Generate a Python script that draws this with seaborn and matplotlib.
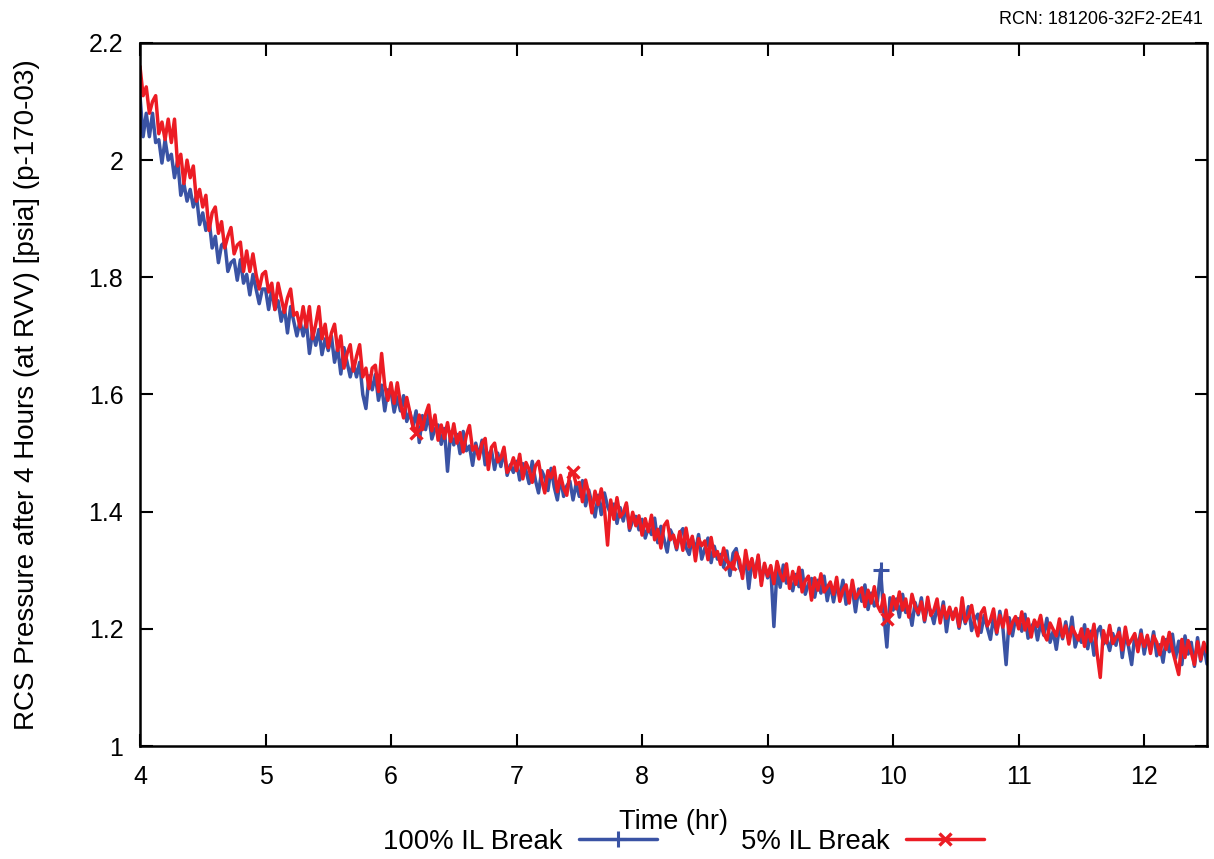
import numpy as np
import pandas as pd
import matplotlib
matplotlib.use("Agg")
import matplotlib.pyplot as plt
import seaborn as sns

# Time axis (hr), samples every 0.025 hr from 4.0 to 12.5
time_hr = [round(4.0 + 0.025 * i, 3) for i in range(341)]

# 100% IL Break (blue), one row per half hour
p_100 = [
    2.11, 2.04, 2.08, 2.04, 2.08, 2.03, 2.035, 1.995, 2.035, 2.0, 2.01, 1.97, 2.0, 1.94, 1.96, 1.93, 1.95, 1.92, 1.94, 1.89,
    1.91, 1.88, 1.90, 1.85, 1.87, 1.825, 1.855, 1.86, 1.81, 1.825, 1.83, 1.795, 1.83, 1.79, 1.805, 1.77, 1.805, 1.78, 1.755, 1.78,
    1.78, 1.745, 1.78, 1.745, 1.76, 1.725, 1.75, 1.705, 1.75, 1.725, 1.70, 1.725, 1.70, 1.725, 1.67, 1.707, 1.684, 1.711, 1.668, 1.695,
    1.675, 1.70, 1.655, 1.68, 1.635, 1.68, 1.655, 1.63, 1.655, 1.63, 1.655, 1.60, 1.576, 1.632, 1.608, 1.634, 1.59, 1.616, 1.572, 1.608,
    1.605, 1.57, 1.596, 1.572, 1.598, 1.554, 1.57, 1.546, 1.572, 1.518, 1.564, 1.54, 1.567, 1.524, 1.541, 1.548, 1.515, 1.542, 1.469, 1.536,
    1.514, 1.532, 1.499, 1.537, 1.504, 1.512, 1.479, 1.517, 1.494, 1.522, 1.48, 1.497, 1.505, 1.472, 1.50, 1.477, 1.505, 1.462, 1.48, 1.467,
    1.486, 1.454, 1.482, 1.47, 1.448, 1.486, 1.454, 1.432, 1.47, 1.458, 1.436, 1.474, 1.442, 1.42, 1.458, 1.426, 1.444, 1.452, 1.42, 1.448,
    1.426, 1.453, 1.41, 1.437, 1.414, 1.391, 1.428, 1.395, 1.432, 1.409, 1.396, 1.413, 1.38, 1.407, 1.384, 1.411, 1.368, 1.385, 1.392, 1.369,
    1.387, 1.355, 1.373, 1.361, 1.389, 1.347, 1.375, 1.353, 1.331, 1.369, 1.357, 1.335, 1.363, 1.371, 1.339, 1.327, 1.355, 1.333, 1.361, 1.319,
    1.337, 1.355, 1.313, 1.341, 1.319, 1.327, 1.305, 1.333, 1.291, 1.329, 1.337, 1.305, 1.293, 1.321, 1.269, 1.317, 1.295, 1.323, 1.281, 1.309,
    1.287, 1.305, 1.204, 1.302, 1.271, 1.309, 1.278, 1.286, 1.265, 1.293, 1.272, 1.30, 1.259, 1.277, 1.286, 1.254, 1.283, 1.261, 1.29, 1.248,
    1.277, 1.246, 1.275, 1.254, 1.283, 1.242, 1.261, 1.27, 1.229, 1.268, 1.247, 1.275, 1.233, 1.261, 1.239, 1.247, 1.301, 1.225, 1.169, 1.253,
    1.232, 1.251, 1.22, 1.259, 1.228, 1.237, 1.206, 1.245, 1.224, 1.253, 1.212, 1.241, 1.23, 1.209, 1.238, 1.217, 1.246, 1.195, 1.234, 1.223,
    1.232, 1.201, 1.23, 1.209, 1.238, 1.197, 1.216, 1.225, 1.194, 1.223, 1.202, 1.182, 1.221, 1.191, 1.23, 1.20, 1.139, 1.219, 1.188, 1.218,
    1.217, 1.196, 1.225, 1.184, 1.203, 1.212, 1.181, 1.21, 1.189, 1.218, 1.177, 1.196, 1.165, 1.204, 1.183, 1.212, 1.181, 1.22, 1.169, 1.188,
    1.177, 1.207, 1.166, 1.196, 1.155, 1.195, 1.204, 1.174, 1.183, 1.163, 1.192, 1.172, 1.201, 1.151, 1.19, 1.17, 1.139, 1.189, 1.168, 1.198,
    1.157, 1.186, 1.165, 1.195, 1.154, 1.173, 1.143, 1.182, 1.161, 1.191, 1.15, 1.179, 1.139, 1.188, 1.157, 1.177, 1.136, 1.185, 1.145, 1.174,
    1.14,
]

# 5% IL Break (red), one row per half hour
p_5 = [
    2.16, 2.11, 2.125, 2.08, 2.10, 2.11, 2.045, 2.065, 2.035, 2.07, 2.03, 2.07, 1.99, 2.01, 1.96, 2.00, 1.97, 1.99, 1.93, 1.95,
    1.92, 1.94, 1.88, 1.91, 1.92, 1.875, 1.895, 1.85, 1.87, 1.885, 1.84, 1.855, 1.86, 1.81, 1.845, 1.81, 1.84, 1.805, 1.78, 1.805,
    1.81, 1.775, 1.79, 1.745, 1.79, 1.765, 1.74, 1.765, 1.78, 1.735, 1.74, 1.715, 1.75, 1.715, 1.75, 1.695, 1.72, 1.75, 1.695, 1.72,
    1.68, 1.705, 1.72, 1.675, 1.70, 1.645, 1.67, 1.685, 1.64, 1.665, 1.685, 1.63, 1.645, 1.61, 1.645, 1.65, 1.605, 1.67, 1.615, 1.59,
    1.62, 1.585, 1.62, 1.585, 1.56, 1.595, 1.57, 1.545, 1.535, 1.565, 1.54, 1.566, 1.582, 1.538, 1.565, 1.522, 1.548, 1.525, 1.552, 1.52,
    1.55, 1.517, 1.535, 1.502, 1.53, 1.547, 1.505, 1.512, 1.49, 1.517, 1.525, 1.472, 1.51, 1.517, 1.485, 1.492, 1.51, 1.467, 1.475, 1.492,
    1.47, 1.498, 1.456, 1.484, 1.472, 1.45, 1.478, 1.486, 1.454, 1.432, 1.47, 1.458, 1.476, 1.434, 1.462, 1.44, 1.428, 1.466, 1.468, 1.447,
    1.45, 1.417, 1.454, 1.431, 1.398, 1.435, 1.412, 1.439, 1.406, 1.343, 1.42, 1.387, 1.424, 1.391, 1.398, 1.415, 1.372, 1.399, 1.376, 1.393,
    1.36, 1.388, 1.366, 1.394, 1.352, 1.37, 1.338, 1.376, 1.384, 1.352, 1.36, 1.338, 1.366, 1.334, 1.372, 1.34, 1.358, 1.316, 1.354, 1.342,
    1.35, 1.318, 1.356, 1.324, 1.332, 1.31, 1.338, 1.316, 1.31, 1.302, 1.33, 1.318, 1.286, 1.334, 1.302, 1.32, 1.288, 1.326, 1.274, 1.312,
    1.29, 1.308, 1.277, 1.315, 1.294, 1.282, 1.311, 1.269, 1.298, 1.276, 1.305, 1.263, 1.282, 1.29, 1.249, 1.287, 1.266, 1.294, 1.263, 1.271,
    1.28, 1.259, 1.288, 1.247, 1.266, 1.275, 1.244, 1.283, 1.252, 1.261, 1.27, 1.238, 1.266, 1.244, 1.272, 1.24, 1.229, 1.258, 1.217, 1.226,
    1.255, 1.234, 1.263, 1.232, 1.251, 1.22, 1.259, 1.238, 1.227, 1.246, 1.215, 1.254, 1.223, 1.232, 1.251, 1.21, 1.239, 1.218, 1.237, 1.216,
    1.235, 1.204, 1.253, 1.212, 1.221, 1.24, 1.209, 1.188, 1.227, 1.236, 1.205, 1.215, 1.234, 1.194, 1.223, 1.203, 1.232, 1.192, 1.211, 1.221,
    1.20, 1.229, 1.198, 1.217, 1.186, 1.215, 1.204, 1.223, 1.192, 1.181, 1.21, 1.199, 1.188, 1.217, 1.186, 1.205, 1.174, 1.203, 1.192, 1.181,
    1.20, 1.17, 1.199, 1.179, 1.208, 1.158, 1.117, 1.197, 1.176, 1.206, 1.175, 1.185, 1.194, 1.164, 1.203, 1.173, 1.182, 1.192, 1.161, 1.191,
    1.17, 1.189, 1.158, 1.188, 1.177, 1.156, 1.186, 1.165, 1.194, 1.164, 1.143, 1.122, 1.182, 1.151, 1.18, 1.16, 1.139, 1.178, 1.148, 1.177,
    1.16,
]

series_names = ["100% IL Break", "5% IL Break"]
x_ticks = [4, 5, 6, 7, 8, 9, 10, 11, 12]
y_ticks = [1.0, 1.2, 1.4, 1.6, 1.8, 2.0, 2.2]
y_tick_labels = ["1", "1.2", "1.4", "1.6", "1.8", "2", "2.2"]

sns.set_style("ticks")
plt.rcParams["font.family"] = ["Liberation Sans", "DejaVu Sans"]
plt.rcParams["text.color"] = "black"
plt.rcParams["axes.labelcolor"] = "black"

fig = plt.figure(figsize=(12.14, 8.59), dpi=100)
ax = fig.add_axes([0.1153, 0.1315, 0.8789, 0.8185])

blue = "#3a53a4"
red = "#ec1c24"

sns.lineplot(x=time_hr, y=p_100, ax=ax, color=blue, lw=2.5, sort=False,
             marker="+", markersize=12, markeredgewidth=2.2, markeredgecolor=blue,
             markevery=[236], label=series_names[0])
sns.lineplot(x=time_hr, y=p_5, ax=ax, color=red, lw=2.5, sort=False,
             marker="x", markersize=8, markeredgewidth=2.4, markeredgecolor=red,
             markevery=[88, 138, 188, 238], label=series_names[1])

ax.set_xlim(4, 12.5)
ax.set_ylim(1.0, 2.2)
ax.set_xticks(x_ticks)
ax.set_yticks(y_ticks)
ax.set_yticklabels(y_tick_labels)
ax.tick_params(direction="in", length=9, width=1.5, top=True, right=True,
               labelsize=18, colors="black")
ax.tick_params(axis="x", pad=14)
ax.tick_params(axis="y", pad=12)
for s in ax.spines.values():
    s.set_linewidth(1.8)
    s.set_color("black")

ax.set_xlabel("Time (hr)", fontsize=19.5, labelpad=14)
ax.set_ylabel("RCS Pressure after 4 Hours (at RVV) [psia] (p-170-03)", fontsize=20)
ax.yaxis.set_label_coords(-0.094, 0.5)

ax.legend_.remove()
h, l = ax.get_legend_handles_labels()
fig.legend(h, l, loc="lower center", bbox_to_anchor=(0.563, -0.024), ncol=2,
           frameon=False, markerfirst=False, fontsize=19.8, handlelength=2.85,
           columnspacing=3.05, handletextpad=0.6)

fig.text(0.991, 0.977, "RCN: 181206-32F2-2E41", ha="right", va="center",
         fontsize=13, family=["Liberation Sans Narrow", "Liberation Sans", "DejaVu Sans"])

fig.savefig("out.png", dpi=100)
